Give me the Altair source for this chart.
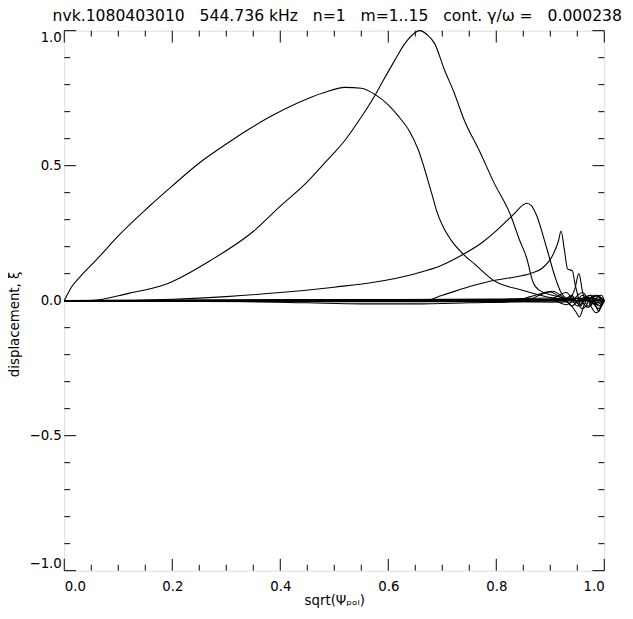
import altair as alt
import pandas as pd

# ---- curve data ----
xa = [0.0, 0.005, 0.015, 0.03, 0.058, 0.1, 0.155, 0.2, 0.25, 0.3, 0.338, 0.38, 0.43, 0.48, 0.52, 0.55,
      0.576, 0.6, 0.618, 0.64, 0.655, 0.68, 0.69, 0.70, 0.716, 0.74, 0.759, 0.795, 0.85, 0.905, 0.95, 1.0]
va = [0.0, 0.02, 0.055, 0.09, 0.148, 0.24, 0.345, 0.425, 0.51, 0.58, 0.63, 0.68, 0.73, 0.77, 0.79, 0.787,
      0.763, 0.725, 0.685, 0.625, 0.562, 0.40, 0.33, 0.28, 0.225, 0.17, 0.137, 0.075, 0.038, 0.01, 0.0, 0.0]

xb = [0.0, 0.046, 0.119, 0.192, 0.27, 0.351, 0.4, 0.45, 0.48, 0.5, 0.521, 0.55, 0.576, 0.588, 0.612, 0.63,
      0.645, 0.658, 0.672, 0.686, 0.704, 0.722, 0.74, 0.77, 0.795, 0.826, 0.844, 0.856, 0.868, 0.88,
      0.917, 0.95, 1.0]
vb = [0.0, 0.0, 0.027, 0.064, 0.148, 0.258, 0.35, 0.44, 0.505, 0.548, 0.597, 0.68, 0.763, 0.806, 0.89, 0.95,
      0.985, 1.0, 0.985, 0.952, 0.855, 0.77, 0.672, 0.55, 0.44, 0.319, 0.22, 0.16, 0.069, 0.038,
      0.014, 0.0, 0.0]

xc = [0.0, 0.1, 0.2, 0.3, 0.4, 0.5, 0.576, 0.65, 0.698, 0.734, 0.777, 0.795, 0.832, 0.848, 0.856,
      0.865, 0.874, 0.893, 0.911, 0.92, 0.93, 0.94, 0.95, 0.97, 1.0]
vc = [0.0, 0.0, 0.005, 0.015, 0.03, 0.05, 0.069, 0.1, 0.13, 0.166, 0.22, 0.25, 0.32, 0.352, 0.361,
      0.352, 0.319, 0.197, 0.075, 0.03, 0.01, 0.02, -0.01, 0.01, 0.0]

xd = [0.0, 0.4, 0.667, 0.7, 0.759, 0.795, 0.832, 0.862, 0.885, 0.905, 0.915, 0.92, 0.926, 0.932,
      0.941, 0.946, 0.951, 0.956, 0.965, 0.975, 0.985, 0.993, 1.0]
vd = [0.0, 0.0, 0.0, 0.02, 0.057, 0.075, 0.087, 0.1, 0.12, 0.17, 0.22, 0.258, 0.19, 0.118,
      0.11, 0.06, 0.02, -0.02, 0.01, 0.02, -0.01, 0.01, 0.0]

xe = [0.0, 0.6, 0.84, 0.862, 0.88, 0.893, 0.905, 0.914, 0.93, 0.94, 0.96, 0.98, 1.0]
ve = [0.0, 0.0, 0.004, 0.014, 0.025, 0.032, 0.035, 0.027, 0.0, -0.02, 0.02, -0.01, 0.0]

xf = [0.0, 0.7, 0.856, 0.88, 0.9, 0.917, 0.93, 0.945, 0.953, 0.96, 0.97, 0.985, 1.0]
vf = [0.0, 0.0, 0.002, 0.02, 0.032, 0.014, 0.0, 0.04, 0.1, 0.03, -0.02, 0.02, 0.0]

xg = [0.0, 0.8, 0.92, 0.935, 0.947, 0.954, 0.962, 0.97, 0.982, 0.99, 0.996, 1.0]
vg = [0.0, 0.0, 0.002, -0.01, -0.04, -0.06, -0.02, 0.01, -0.01, -0.04, 0.0, 0.0]

xn1 = [0.0, 0.3, 0.45, 0.55, 0.65, 0.75, 0.85, 0.9, 0.93, 0.95, 0.97, 0.99, 1.0]
vn1 = [0.0, -0.002, -0.008, -0.012, -0.012, -0.008, -0.003, 0.005, 0.03, -0.02, 0.01, -0.03, 0.0]

xn2 = [0.0, 0.5, 0.92, 0.94, 0.96, 0.98, 1.0]
vn2 = [0.0, 0.002, 0.002, 0.015, -0.03, 0.02, 0.0]

xn3 = [0.0, 0.6, 0.9, 0.93, 0.96, 0.985, 1.0]
vn3 = [0.0, -0.003, 0.005, -0.015, 0.03, -0.045, 0.0]

xn4 = [0.0, 0.5, 0.8, 0.9, 0.95, 0.975, 0.99, 1.0]
vn4 = [0.0, 0.004, 0.006, 0.01, 0.0, 0.02, -0.02, 0.0]

xn5 = [0.0, 0.7, 0.92, 0.95, 0.97, 0.99, 1.0]
vn5 = [0.0, -0.002, -0.005, 0.01, -0.025, 0.015, 0.0]

xn6 = [0.0, 0.5, 0.9, 0.97, 0.99, 1.0]
vn6 = [0.0, 0.003, 0.003, 0.01, 0.005, 0.0]

xn7 = [0.0, 0.4, 0.8, 0.96, 0.985, 1.0]
vn7 = [0.0, -0.004, -0.004, 0.008, -0.015, 0.0]

xn8 = [0.0, 0.6, 0.94, 0.975, 0.995, 1.0]
vn8 = [0.0, 0.001, -0.005, 0.012, 0.02, 0.0]

curves = {
    "m01": (xa, va), "m02": (xb, vb), "m03": (xc, vc), "m04": (xd, vd),
    "m05": (xe, ve), "m06": (xf, vf), "m07": (xg, vg), "m08": (xn1, vn1),
    "m09": (xn2, vn2), "m10": (xn3, vn3), "m11": (xn4, vn4), "m12": (xn5, vn5),
    "m13": (xn6, vn6), "m14": (xn7, vn7), "m15": (xn8, vn8),
}

# ---- tick values ----
x_major = [0.0, 0.2, 0.4, 0.6, 0.8, 1.0]
x_minor = [0.05, 0.1, 0.15, 0.25, 0.3, 0.35, 0.45, 0.5, 0.55, 0.65,
           0.7, 0.75, 0.85, 0.9, 0.95]
y_major = [-1.0, -0.5, 0.0, 0.5, 1.0]
y_minor = [-0.9, -0.8, -0.7, -0.6, -0.4, -0.3, -0.2, -0.1, 0.1, 0.2, 0.3,
           0.4, 0.6, 0.7, 0.8, 0.9]

TITLE = ("nvk.1080403010\u00a0\u00a0 544.736 kHz\u00a0\u00a0 n=1\u00a0\u00a0 m=1..15"
         "\u00a0\u00a0 cont. γ/ω =\u00a0\u00a0 0.000238")
X_TITLE = "sqrt(Ψₚₒₗ)"
Y_TITLE = "displacement, ξ"

rows = []
for name, (xs_, vs_) in curves.items():
    for xv, yv in zip(xs_, vs_):
        rows.append({"curve": name, "x": xv, "v": yv})
df = pd.DataFrame(rows)

W, H = 547, 547
FONT = "DejaVu Sans"
xscale = alt.Scale(domain=[0, 1], nice=False, zero=False)
yscale = alt.Scale(domain=[-1, 1], nice=False, zero=False)

label_x = alt.Axis(orient="bottom", values=x_major, format=".1f", ticks=False, domain=False,
                   grid=False, labelPadding=9, labelFontSize=13.5, labelColor="black",
                   labelFont=FONT, title=X_TITLE, titleFont=FONT, titleFontSize=13.5,
                   titleFontWeight="normal", titleColor="black", titlePadding=1)
label_y = alt.Axis(orient="left", values=y_major, format=".1f", ticks=False, domain=False,
                   grid=False, labelPadding=3, labelFontSize=13.5, labelColor="black",
                   labelFont=FONT, labelFlush=True, title=Y_TITLE, titleFont=FONT,
                   titleFontSize=13.5, titleFontWeight="normal", titleColor="black",
                   titleX=-46, titleY=297, titleAngle=270, titleAlign="center",
                   titleBaseline="alphabetic")

lines = alt.Chart(df).mark_line(color="black", strokeWidth=1.1, interpolate="monotone").encode(
    x=alt.X("x:Q", scale=xscale, axis=label_x),
    y=alt.Y("v:Q", scale=yscale, axis=label_y),
    detail="curve:N",
)

xt_major = pd.DataFrame({"x": x_major})
xt_minor = pd.DataFrame({"x": x_minor})
yt_major = pd.DataFrame({"v": y_major})
yt_minor = pd.DataFrame({"v": y_minor})


def xticks(data, y0, y1):
    return alt.Chart(data).mark_rule(color="black", strokeWidth=1).encode(
        x=alt.X("x:Q", scale=xscale, axis=None), y=alt.value(y0), y2=alt.value(y1))


def yticks(data, x0, x1):
    return alt.Chart(data).mark_rule(color="black", strokeWidth=1).encode(
        y=alt.Y("v:Q", scale=yscale, axis=None), x=alt.value(x0), x2=alt.value(x1))


chart = alt.layer(
    lines,
    xticks(xt_major, H, H - 12), xticks(xt_major, 0, 12),
    xticks(xt_minor, H, H - 6), xticks(xt_minor, 0, 6),
    yticks(yt_major, 0, 12), yticks(yt_major, W, W - 12),
    yticks(yt_minor, 0, 6), yticks(yt_minor, W, W - 6),
).resolve_axis(x="independent", y="independent").properties(
    width=W, height=H,
    autosize=alt.AutoSizeParams(type="none"),
    padding={"left": 57, "top": 19, "right": 21, "bottom": 45},
    title=alt.Title(text=TITLE, font=FONT, fontSize=15.8, fontWeight="normal", color="black",
                    anchor="middle", frame="group", offset=4, dx=3),
).configure_view(stroke="black", strokeWidth=1).configure(background="white")

chart.save("out.html", embed_options={"renderer": "svg", "actions": False})
